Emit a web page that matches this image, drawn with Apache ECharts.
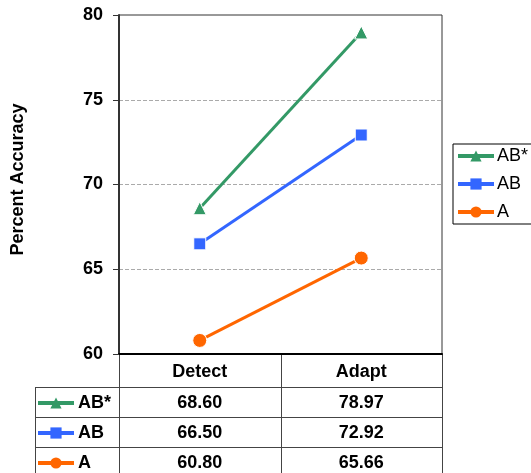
<!DOCTYPE html>
<html>
<head>
<meta charset="utf-8">
<script src="https://cdn.jsdelivr.net/npm/echarts@6/dist/echarts.min.js"></script>
<style>html,body{margin:0;padding:0;background:#fff}#c{width:531px;height:473px}</style>
</head>
<body>
<div id="c"></div>
<script>
var categories = ['Detect', 'Adapt'];
var seriesNames = ['AB*', 'AB', 'A'];
var valuesABstar = [68.60, 78.97];
var valuesAB = [66.50, 72.92];
var valuesA = [60.80, 65.66];
var yTicks = [60, 65, 70, 75, 80];

var FONT = 'Arial, "Liberation Sans", sans-serif';
var colors = {'AB*': '#339966', 'AB': '#3366FF', 'A': '#FF6600'};
var symbols = {'AB*': 'triangle', 'AB': 'rect', 'A': 'circle'};
var symSizes = {'AB*': 13, 'AB': 12, 'A': 14};
var dataMap = {'AB*': valuesABstar, 'AB': valuesAB, 'A': valuesA};

var chart = echarts.init(document.getElementById('c'));
var G = {left: 119, right: 89, top: 15, bottom: 119};

var series = seriesNames.map(function (n) {
  return {
    name: n, type: 'line', data: dataMap[n],
    symbol: symbols[n], symbolSize: symSizes[n],
    lineStyle: {color: colors[n], width: 3},
    itemStyle: {color: colors[n], borderColor: '#fff', borderWidth: 1},
    emphasis: {disabled: true}
  };
});

var legendCommon = {
  data: seriesNames, orient: 'vertical',
  itemWidth: 36, itemHeight: 14,
  selectedMode: false,
  lineStyle: {width: 4},
  itemStyle: {borderWidth: 0}
};

chart.setOption({
  animation: false,
  grid: {left: G.left, right: G.right, top: G.top, bottom: G.bottom, show: true, borderColor: '#333', borderWidth: 1},
  xAxis: {
    type: 'category', data: categories, boundaryGap: true,
    axisLine: {lineStyle: {color: '#000', width: 2}},
    axisTick: {show: false},
    axisLabel: {color: '#000', fontFamily: FONT, fontWeight: 'bold', fontSize: 18, margin: 9}
  },
  yAxis: {
    type: 'value', min: yTicks[0], max: yTicks[yTicks.length - 1], interval: 5,
    name: 'Percent Accuracy', nameLocation: 'middle', nameGap: 92,
    nameTextStyle: {color: '#000', fontFamily: FONT, fontWeight: 'bold', fontSize: 18, padding: [0, 0, 0, 10]},
    axisLine: {show: true, lineStyle: {color: '#333', width: 2}},
    axisTick: {show: true, length: 6, lineStyle: {color: '#333'}},
    axisLabel: {color: '#000', fontFamily: FONT, fontWeight: 'bold', fontSize: 18, margin: 16},
    splitLine: {show: true, lineStyle: {color: ['transparent', '#aaa', '#aaa', '#aaa', 'transparent'], type: [4, 2], width: 1}}
  },
  legend: [Object.assign({}, legendCommon, {
    left: 453, top: 144, itemGap: 8,
    padding: [2, 40, 2, 3], borderColor: '#000', borderWidth: 1,
    textStyle: {color: '#000', fontFamily: FONT, fontSize: 18, lineHeight: 20, padding: [0, 0, 0, -2]}
  }), Object.assign({}, legendCommon, {
    left: 36, top: 393, itemGap: 10, padding: 0,
    textStyle: {color: '#000', fontFamily: FONT, fontSize: 18, fontWeight: 'bold', lineHeight: 20, padding: [0, 0, 0, -1]}
  })],
  series: series
});

// Data table below the plot, positioned from the chart's own category scale
function buildTable() {
  var n = categories.length;
  var c0 = chart.convertToPixel({xAxisIndex: 0}, categories[0]);
  var c1 = chart.convertToPixel({xAxisIndex: 0}, categories[1]);
  var step = c1 - c0;
  var yBottom = chart.convertToPixel({yAxisIndex: 0}, yTicks[0]);
  var xLeftPlot = c0 - step / 2;
  var xRight = c0 + step * (n - 0.5);
  var tableLeft = 35;
  var headerBottom = yBottom + 33;
  var rowH = 30;
  var els = [];
  var lineStyle = {stroke: '#444', lineWidth: 1};
  for (var i = 0; i <= n; i++) {
    var x = Math.round(xLeftPlot + i * step) + 0.5;
    els.push({type: 'line', shape: {x1: x, y1: yBottom, x2: x, y2: 480}, style: lineStyle, silent: true});
  }
  els.push({type: 'line', shape: {x1: tableLeft + 0.5, y1: headerBottom, x2: tableLeft + 0.5, y2: 480}, style: lineStyle, silent: true});
  for (var r = 0; r < seriesNames.length; r++) {
    var y = Math.round(headerBottom + r * rowH) + 0.5;
    els.push({type: 'line', shape: {x1: tableLeft, y1: y, x2: xRight + 1, y2: y}, style: lineStyle, silent: true});
  }
  seriesNames.forEach(function (name, r) {
    var vals = dataMap[name];
    categories.forEach(function (cat, ci) {
      els.push({
        type: 'text', silent: true,
        x: chart.convertToPixel({xAxisIndex: 0}, cat),
        y: headerBottom + r * rowH + rowH / 2 + 1,
        style: {text: vals[ci].toFixed(2), fill: '#000', font: 'bold 18px ' + FONT, textAlign: 'center', textVerticalAlign: 'middle'}
      });
    });
  });
  chart.setOption({graphic: {elements: els}});
}
buildTable();
</script>
</body>
</html>
